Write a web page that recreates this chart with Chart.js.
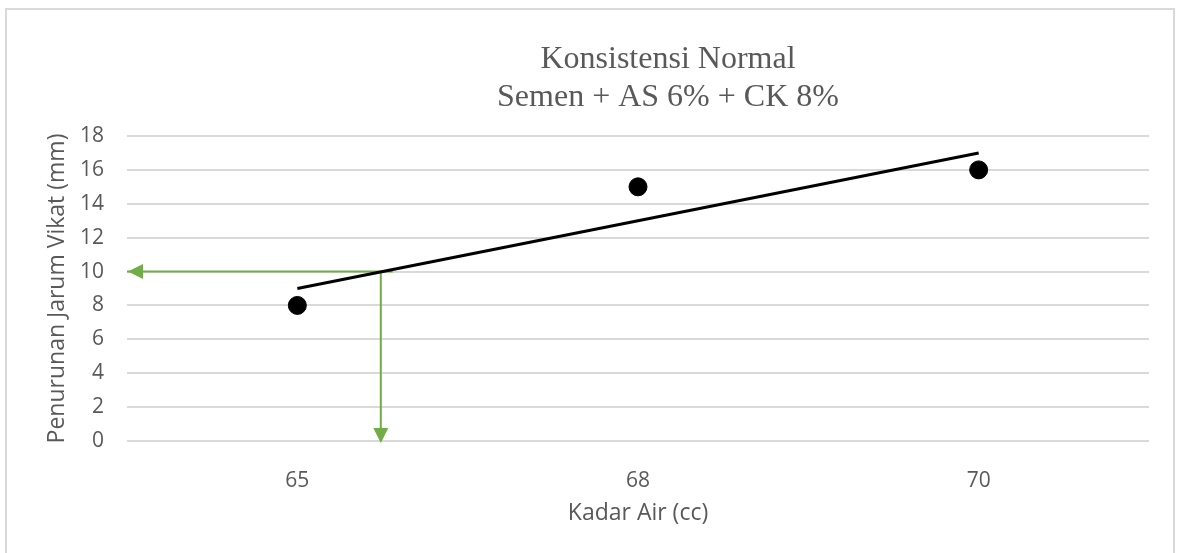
<!DOCTYPE html>
<html lang="id">
<head>
<meta charset="UTF-8">
<title>Konsistensi Normal</title>
<script src="https://cdn.jsdelivr.net/npm/chart.js"></script>
<style>
  html, body { margin: 0; padding: 0; background: #fff; }
  .wadah { position: relative; width: 1184px; height: 553px; overflow: hidden; }
  .bingkai {
    position: absolute; left: 5px; top: 8px; width: 1170px; height: 600px;
    border: 2px solid #d9d9d9; box-sizing: border-box; pointer-events: none;
  }
  canvas { position: absolute; left: 0; top: 0; }
</style>
</head>
<body>
<div class="wadah">
  <canvas id="grafik" width="1184" height="553"></canvas>
  <div class="bingkai"></div>
</div>

<script>
// data
const kadarAir = ['65', '68', '70'];
const penurunan = [8, 15, 16];
const garisTren = [9, 13, 17];
const yTicks = [0, 2, 4, 6, 8, 10, 12, 14, 16, 18];
const judul = ['Konsistensi Normal', 'Semen + AS 6% + CK 8%'];
// panah hijau: penurunan 10 mm, posisi pada sumbu kadar air (indeks kategori)
const targetY = 10;
const posisiPanah = 0.245;
const ujungKanan = 0.28;

const hijau = '#70ad47';
const abu = '#595959';

const titik = penurunan.map((v, i) => ({ x: i, y: v }));
const tren = garisTren.map((v, i) => ({ x: i, y: v }));
const panahDatar = [{ x: ujungKanan, y: targetY }, { x: -0.5, y: targetY }];
const panahTegak = [{ x: posisiPanah, y: targetY }, { x: posisiPanah, y: 0 }];

// judul dua baris dan kepala panah
const pluginJudul = {
  id: 'judulDanPanah',
  afterDatasetsDraw(chart) {
    const ctx = chart.ctx;
    const sx = chart.scales.x, sy = chart.scales.y;
    ctx.save();
    ctx.fillStyle = hijau;
    // kepala panah kiri
    let tx = sx.getPixelForValue(panahDatar[1].x) + 1, ty = sy.getPixelForValue(panahDatar[1].y);
    ctx.beginPath();
    ctx.moveTo(tx, ty);
    ctx.lineTo(tx + 15, ty - 7.5);
    ctx.lineTo(tx + 15, ty + 7.5);
    ctx.closePath();
    ctx.fill();
    // kepala panah bawah
    tx = sx.getPixelForValue(panahTegak[1].x); ty = sy.getPixelForValue(panahTegak[1].y) + 2;
    ctx.beginPath();
    ctx.moveTo(tx, ty);
    ctx.lineTo(tx - 7.5, ty - 15);
    ctx.lineTo(tx + 7.5, ty - 15);
    ctx.closePath();
    ctx.fill();

    ctx.fillStyle = abu;
    ctx.font = '32px "Liberation Serif", "Times New Roman", serif';
    ctx.textAlign = 'center';
    ctx.textBaseline = 'alphabetic';
    const cx = (chart.chartArea.left + chart.chartArea.right) / 2 + 30;
    ctx.fillText(judul[0], cx, 68);
    ctx.fillText(judul[1], cx, 106);
    ctx.restore();
  }
};

new Chart(document.getElementById('grafik'), {
  type: 'scatter',
  data: {
    datasets: [
      {
        data: titik,
        showLine: false,
        pointRadius: 9,
        pointBackgroundColor: '#000',
        pointBorderColor: '#000',
        order: 0
      },
      {
        data: tren,
        showLine: true,
        borderColor: '#000',
        borderWidth: 3,
        pointRadius: 0,
        order: 1
      },
      {
        data: panahDatar,
        showLine: true,
        borderColor: hijau,
        borderWidth: 2,
        pointRadius: 0,
        order: 2
      },
      {
        data: panahTegak,
        showLine: true,
        borderColor: hijau,
        borderWidth: 2,
        pointRadius: 0,
        order: 2
      }
    ]
  },
  options: {
    responsive: false,
    animation: false,
    layout: { padding: { left: 0, right: 35, top: 136, bottom: 0 } },
    plugins: { legend: { display: false }, tooltip: { enabled: false } },
    scales: {
      x: {
        type: 'linear',
        min: -0.5,
        max: 2.5,
        afterBuildTicks: (s) => { s.ticks = kadarAir.map((_, i) => ({ value: i })); },
        afterFit: (s) => { s.height = 112; },
        grid: { display: false },
        border: { display: false },
        ticks: {
          color: abu,
          font: { family: '"Open Sans", sans-serif', size: 21 },
          padding: 19,
          callback: (v) => kadarAir[v]
        },
        title: {
          display: true,
          text: 'Kadar Air (cc)',
          color: abu,
          font: { family: '"Open Sans", sans-serif', size: 23 },
          padding: { top: 26, bottom: 26 }
        }
      },
      y: {
        min: 0,
        max: 18,
        afterBuildTicks: (s) => { s.ticks = yTicks.map(v => ({ value: v })); },
        afterFit: (s) => { s.width = 127; },
        grid: { color: '#d9d9d9', lineWidth: 2, drawTicks: false },
        border: { display: false },
        ticks: {
          color: abu,
          font: { family: '"Open Sans", sans-serif', size: 21 },
          padding: 23
        },
        title: {
          display: true,
          text: 'Penurunan Jarum Vikat (mm)',
          color: abu,
          font: { family: '"Open Sans", sans-serif', size: 23 },
          padding: { top: 44, bottom: 44 }
        }
      }
    }
  },
  plugins: [pluginJudul]
});
</script>
</body>
</html>
